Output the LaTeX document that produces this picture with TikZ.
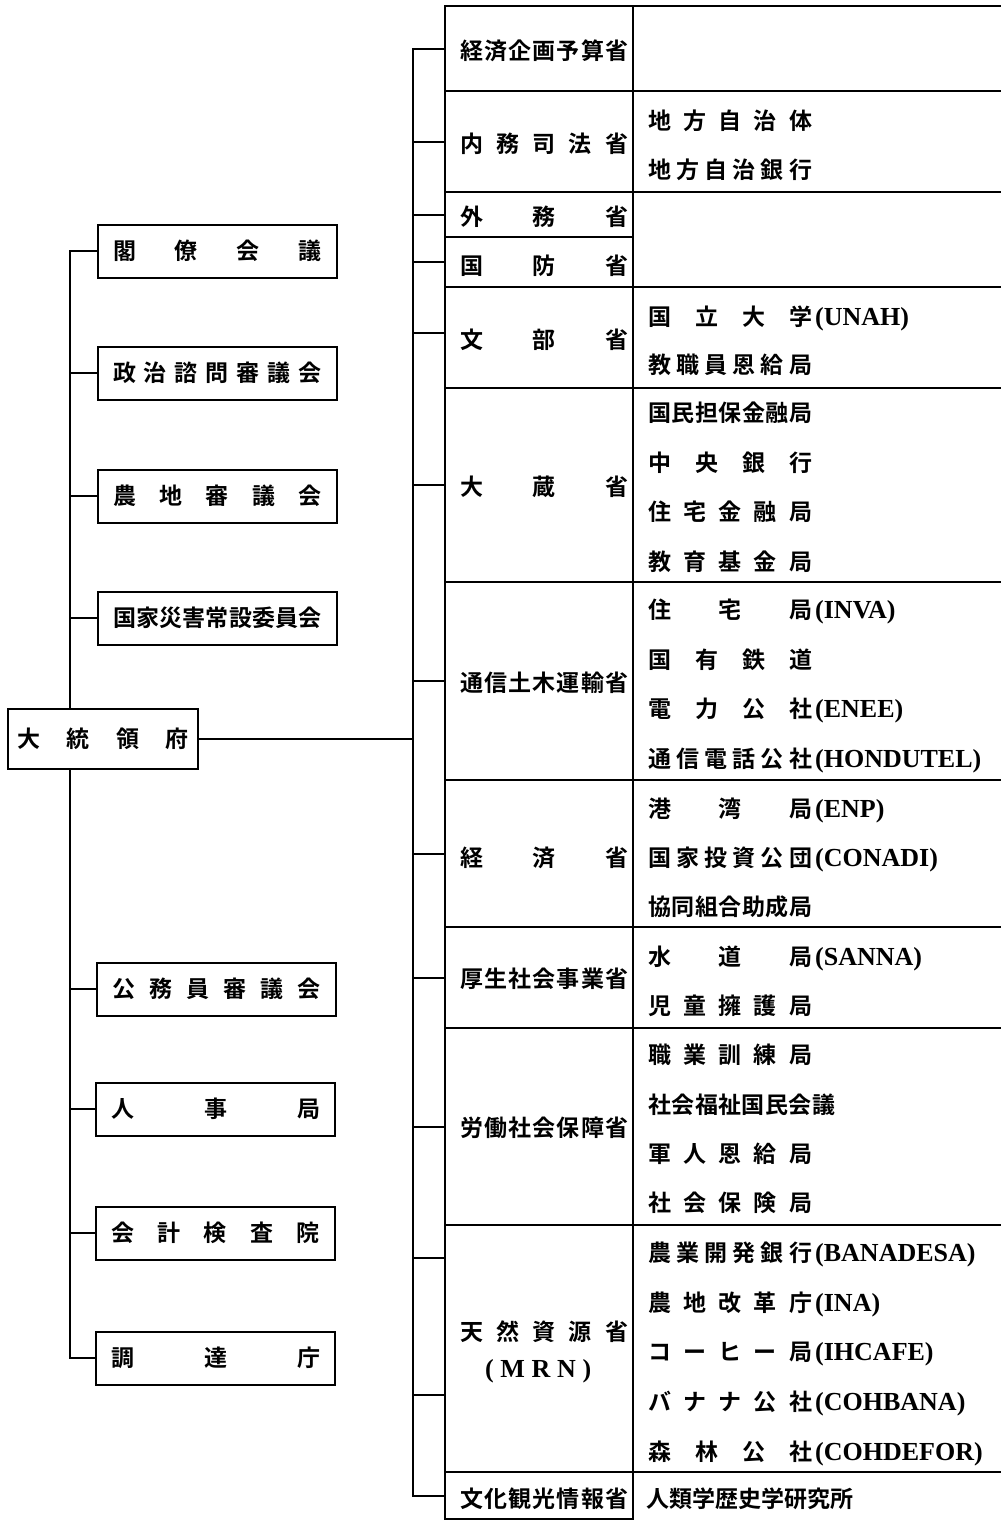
\documentclass[tikz,border=0pt]{standalone}
\usepackage{fontspec}
\setmainfont{Noto Sans CJK JP}[BoldFont={Noto Sans CJK JP Bold}]
\newfontfamily\lat{Liberation Serif}
\makeatletter
\def\sprd#1{\sprdA#1\sprdEnd}
\def\sprdA#1#2\sprdEnd{#1\ifx\relax#2\relax\else\hfill\sprdA#2\sprdEnd\fi}
\makeatother
\newcommand\spbox[2]{\makebox[#1][s]{\sprd{#2}}}
\newcommand\ab[1]{\kern3pt{\lat\bfseries\fontsize{26}{28}\selectfont #1}}
\tikzset{
  every node/.style={font=\fontsize{23}{27}\selectfont\bfseries},
  lbox/.style={draw, line width=2pt, minimum width=239, minimum height=53, inner sep=0pt},
  pbox/.style={draw, line width=2pt, minimum width=190, minimum height=60, inner sep=0pt},
  lcell/.style={draw, line width=2.5pt, inner sep=0pt, minimum width=188},
  rcell/.style={draw, line width=2.5pt, inner sep=0pt, minimum width=378},
  ghost/.style={inner sep=0pt, minimum width=378},
  conn/.style={line width=2pt},
  rt/.style={anchor=base west, inner sep=0pt, yshift=-9pt},
}
\begin{document}
\begin{tikzpicture}[x=1pt,y=-1pt]
\useasboundingbox (0,0) rectangle (1001,1521);
% ---------- left side ----------
\coordinate (lt) at (70,0);
\coordinate (rtk) at (413,0);
\node[pbox] (pres) at (103,739) {\spbox{172pt}{大統領府}};
\node[lbox] (b1) at (217.5,251) {\spbox{209pt}{閣僚会議}};
\node[lbox] (b2) at (217.5,373) {\spbox{209pt}{政治諮問審議会}};
\node[lbox] (b3) at (217.5,496) {\spbox{209pt}{農地審議会}};
\node[lbox] (b4) at (217.5,618) {\spbox{209pt}{国家災害常設委員会}};
\node[lbox] (b5) at (216.5,989) {\spbox{209pt}{公務員審議会}};
\node[lbox] (b6) at (215.5,1109) {\spbox{209pt}{人事局}};
\node[lbox] (b7) at (215.5,1233) {\spbox{209pt}{会計検査院}};
\node[lbox] (b8) at (215.5,1358) {\spbox{209pt}{調達庁}};
\draw[conn] (b1.west) -- (b1.west -| lt) -- (pres.north -| lt);
\foreach \b in {b2,b3,b4,b5,b6,b7} \draw[conn] (\b.west) -- (\b.west -| lt);
\draw[conn] (pres.south -| lt) -- (b8.west -| lt) -- (b8.west);
\draw[conn] (pres.east) -- (pres.east -| rtk);
% ---------- table: left column ----------
\node[lcell, minimum height=85]  (m1)  at (539,48.5)  {};
\node[lcell, minimum height=101] (m2)  at (539,141.5) {};
\node[lcell, minimum height=45]  (m3)  at (539,214.5) {};
\node[lcell, minimum height=50]  (m4)  at (539,262)   {};
\node[lcell, minimum height=101] (m5)  at (539,337.5) {};
\node[lcell, minimum height=194] (m6)  at (539,485)   {};
\node[lcell, minimum height=198] (m7)  at (539,681)   {};
\node[lcell, minimum height=147] (m8)  at (539,853.5) {};
\node[lcell, minimum height=101] (m9)  at (539,977.5) {};
\node[lcell, minimum height=197] (m10) at (539,1126.5) {};
\node[lcell, minimum height=247] (m11) at (539,1348.5) {};
\node[lcell, minimum height=47]  (m12) at (539,1495.5) {};
% ---------- table: right column ----------
\node[rcell, minimum height=85]  (r1)  at (822,48.5)  {};
\node[rcell, minimum height=101] (r2)  at (822,141.5) {};
\node[rcell, minimum height=95]  (r3)  at (822,239.5) {};
\node[rcell, minimum height=101] (r5)  at (822,337.5) {};
\node[rcell, minimum height=194] (r6)  at (822,485)   {};
\node[rcell, minimum height=198] (r7)  at (822,681)   {};
\node[rcell, minimum height=147] (r8)  at (822,853.5) {};
\node[rcell, minimum height=101] (r9)  at (822,977.5) {};
\node[rcell, minimum height=197] (r10) at (822,1126.5) {};
\node[rcell, minimum height=247] (r11) at (822,1348.5) {};
\node[ghost, minimum height=47]  (r12) at (822,1495.5) {};
% ---------- right trunk ----------
\draw[conn] (m1.west) -- (m1.west -| rtk) -- (m12.west -| rtk) -- (m12.west);
\foreach \m in {m2,m3,m4,m6,m7,m8,m9,m10} \draw[conn] (\m.west) -- (\m.west -| rtk);
\draw[conn] ([yshift=4.5pt]m5.west) -- ([yshift=4.5pt]m5.west -| rtk);
\draw[conn] ([yshift=90.5pt]m11.west) -- ([yshift=90.5pt]m11.west -| rtk);
\draw[conn] ([yshift=-46.5pt]m11.west) -- ([yshift=-46.5pt]m11.west -| rtk);
% ---------- ministry labels ----------
\node[rt] (t1)  at (460,50)   {\spbox{168pt}{経済企画予算省}};
\node[rt] (t2)  at (460,143)  {\spbox{168pt}{内務司法省}};
\node[rt] (t3)  at (460,216)  {\spbox{168pt}{外務省}};
\node[rt] (t4)  at (460,265)  {\spbox{168pt}{国防省}};
\node[rt] (t5)  at (460,339)  {\spbox{168pt}{文部省}};
\node[rt] (t6)  at (460,486)  {\spbox{168pt}{大蔵省}};
\node[rt] (t7)  at (460,682)  {\spbox{168pt}{通信土木運輸省}};
\node[rt] (t8)  at (460,857)  {\spbox{168pt}{経済省}};
\node[rt] (t9)  at (460,978)  {\spbox{168pt}{厚生社会事業省}};
\node[rt] (t10) at (460,1127) {\spbox{168pt}{労働社会保障省}};
\node[rt] (t11) at (460,1331) {\spbox{168pt}{天然資源省}};
\node[rt] (t11b) at (485,1368) {\makebox[106pt][s]{\lat\bfseries\fontsize{26}{28}\selectfont\sprd{(MRN)}}};
\node[rt] (t12) at (460,1498) {\spbox{168pt}{文化観光情報省}};
% ---------- agencies ----------
\node[rt] (a1)  at (648,120)  {\spbox{164pt}{地方自治体}};
\node[rt] (a2)  at (648,169)  {\spbox{164pt}{地方自治銀行}};
\node[rt] (a3)  at (648,316)  {\spbox{164pt}{国立大学}\ab{(UNAH)}};
\node[rt] (a4)  at (648,364)  {\spbox{164pt}{教職員恩給局}};
\node[rt] (a5)  at (648,412)  {\spbox{164pt}{国民担保金融局}};
\node[rt] (a6)  at (648,462)  {\spbox{164pt}{中央銀行}};
\node[rt] (a7)  at (648,511)  {\spbox{164pt}{住宅金融局}};
\node[rt] (a8)  at (648,561)  {\spbox{164pt}{教育基金局}};
\node[rt] (a9)  at (648,609)  {\spbox{164pt}{住宅局}\ab{(INVA)}};
\node[rt] (a10) at (648,659)  {\spbox{164pt}{国有鉄道}};
\node[rt] (a11) at (648,708)  {\spbox{164pt}{電力公社}\ab{(ENEE)}};
\node[rt] (a12) at (648,758)  {\spbox{164pt}{通信電話公社}\ab{(HONDUTEL)}};
\node[rt] (a13) at (648,808)  {\spbox{164pt}{港湾局}\ab{(ENP)}};
\node[rt] (a14) at (648,857)  {\spbox{164pt}{国家投資公団}\ab{(CONADI)}};
\node[rt] (a15) at (648,906)  {\spbox{164pt}{協同組合助成局}};
\node[rt] (a16) at (648,956)  {\spbox{164pt}{水道局}\ab{(SANNA)}};
\node[rt] (a17) at (648,1005) {\spbox{164pt}{児童擁護局}};
\node[rt] (a18) at (648,1054) {\spbox{164pt}{職業訓練局}};
\node[rt] (a19) at (648,1104) {\spbox{187pt}{社会福祉国民会議}};
\node[rt] (a20) at (648,1153) {\spbox{164pt}{軍人恩給局}};
\node[rt] (a21) at (648,1202) {\spbox{164pt}{社会保険局}};
\node[rt] (a22) at (648,1252) {\spbox{164pt}{農業開発銀行}\ab{(BANADESA)}};
\node[rt] (a23) at (648,1302) {\spbox{164pt}{農地改革庁}\ab{(INA)}};
\node[rt] (a24) at (648,1351) {\spbox{164pt}{コーヒー局}\ab{(IHCAFE)}};
\node[rt] (a25) at (648,1401) {\spbox{164pt}{バナナ公社}\ab{(COHBANA)}};
\node[rt] (a26) at (648,1451) {\spbox{164pt}{森林公社}\ab{(COHDEFOR)}};
\node[rt] (a27) at (646,1498) {\spbox{205pt}{人類学歴史学研究所}};
\end{tikzpicture}
\end{document}
